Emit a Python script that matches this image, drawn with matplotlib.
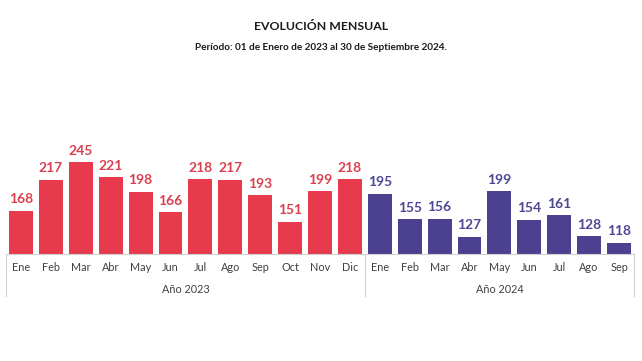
import matplotlib
matplotlib.use("Agg")
import matplotlib.pyplot as plt

months_2023 = ["Ene", "Feb", "Mar", "Abr", "May", "Jun", "Jul", "Ago", "Sep", "Oct", "Nov", "Dic"]
values_2023 = [168, 217, 245, 221, 198, 166, 218, 217, 193, 151, 199, 218]
months_2024 = ["Ene", "Feb", "Mar", "Abr", "May", "Jun", "Jul", "Ago", "Sep"]
values_2024 = [195, 155, 156, 127, 199, 154, 161, 128, 118]
years = ["Año 2023", "Año 2024"]

title = "EVOLUCIÓN MENSUAL"
subtitle = "Período: 01 de Enero de 2023 al 30 de Septiembre 2024."

red = "#E73A4D"
red_txt = "#D9404F"
purple = "#4B4190"
purple_txt = "#4E4892"
font = ["Lato", "DejaVu Sans"]

fig = plt.figure(figsize=(6.42, 3.61), dpi=100)
W, H = 642, 361
ax = fig.add_axes([6 / W, 1 - 254 / H, 628 / W, 97.5 / H])
ax.set_xlim(-0.5, 20.5)
ax.set_ylim(100, 254)

n1 = len(values_2023)
x1 = list(range(n1))
x2 = list(range(n1, n1 + len(values_2024)))
b1 = ax.bar(x1, values_2023, width=0.8, color=red, bottom=0)
b2 = ax.bar(x2, values_2024, width=0.8, color=purple, bottom=0)
ax.bar_label(b1, padding=4, color=red_txt, fontsize=10, fontweight="bold", family=font)
ax.bar_label(b2, padding=4, color=purple_txt, fontsize=10, fontweight="bold", family=font)

for s in ["top", "right", "left"]:
    ax.spines[s].set_visible(False)
ax.spines["bottom"].set_color("#D0D0D0")
ax.set_yticks([])
ax.set_xticks(x1 + x2)
ax.set_xticklabels(months_2023 + months_2024, fontsize=7.8, color="#404040", family=font)
ax.tick_params(axis="x", length=0, pad=6)

# separators and year labels
tr = ax.get_xaxis_transform()
sep_x = [-0.5, n1 - 0.5, 20.5]
for sx in sep_x:
    ax.plot([sx, sx], [0, -0.431], color="#D0D0D0", lw=0.8, clip_on=False, transform=tr)
ax.text((-0.5 + n1 - 0.5) / 2, -0.369, years[0], ha="center", va="center", fontsize=7.8,
        color="#404040", family=font, transform=tr)
ax.text((n1 - 0.5 + 20.5) / 2, -0.369, years[1], ha="center", va="center", fontsize=7.8,
        color="#404040", family=font, transform=tr)

fig.text(0.5, 1 - 26 / H, title, ha="center", va="center", fontsize=8.8, fontweight="bold",
         color="#1a1a1a", family=font)
fig.text(0.5, 1 - 47 / H, subtitle, ha="center", va="center", fontsize=7.2, fontweight="bold",
         color="#1a1a1a", family=font)

fig.savefig("out.png", dpi=100)
